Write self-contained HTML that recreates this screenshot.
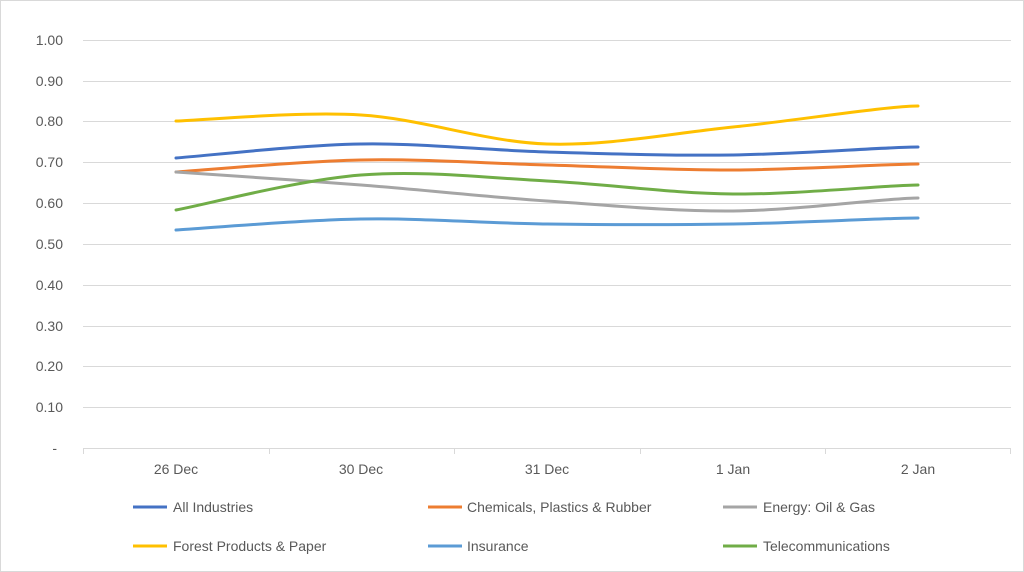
<!DOCTYPE html>
<html><head><meta charset="utf-8"><style>
html,body{margin:0;padding:0;background:#fff;}
svg{display:block;font-family:"Liberation Sans",Arial,sans-serif;}
</style></head><body>
<svg width="1024" height="572" viewBox="0 0 1024 572" xmlns="http://www.w3.org/2000/svg">
<rect x="0.5" y="0.5" width="1023" height="571" fill="#fff" stroke="#d9d9d9"/>
<g stroke="#d9d9d9" stroke-width="1">
<line x1="83" y1="40.5" x2="1011" y2="40.5"/>
<line x1="83" y1="81.5" x2="1011" y2="81.5"/>
<line x1="83" y1="121.5" x2="1011" y2="121.5"/>
<line x1="83" y1="162.5" x2="1011" y2="162.5"/>
<line x1="83" y1="203.5" x2="1011" y2="203.5"/>
<line x1="83" y1="244.5" x2="1011" y2="244.5"/>
<line x1="83" y1="285.5" x2="1011" y2="285.5"/>
<line x1="83" y1="326.5" x2="1011" y2="326.5"/>
<line x1="83" y1="366.5" x2="1011" y2="366.5"/>
<line x1="83" y1="407.5" x2="1011" y2="407.5"/>
<line x1="83" y1="448.5" x2="1011" y2="448.5"/>
<line x1="83.5" y1="448" x2="83.5" y2="454"/>
<line x1="269.5" y1="448" x2="269.5" y2="454"/>
<line x1="454.5" y1="448" x2="454.5" y2="454"/>
<line x1="640.5" y1="448" x2="640.5" y2="454"/>
<line x1="825.5" y1="448" x2="825.5" y2="454"/>
<line x1="1010.5" y1="448" x2="1010.5" y2="454"/>
</g>
<g fill="#595959" font-size="14" text-anchor="end">
<text x="63" y="45">1.00</text><text x="63" y="86">0.90</text><text x="63" y="126">0.80</text>
<text x="63" y="167">0.70</text><text x="63" y="208">0.60</text><text x="63" y="249">0.50</text>
<text x="63" y="290">0.40</text><text x="63" y="331">0.30</text><text x="63" y="371">0.20</text>
<text x="63" y="412">0.10</text><text x="57" y="453">-</text>
</g>
<g fill="#595959" font-size="14" text-anchor="middle">
<text x="176" y="474">26 Dec</text><text x="361" y="474">30 Dec</text><text x="547" y="474">31 Dec</text>
<text x="733" y="474">1 Jan</text><text x="918" y="474">2 Jan</text>
</g>
<g fill="none" stroke-width="3" stroke-linecap="round">
<path stroke="#ffc000" d="M176,121 C206.8,120 299.2,111.2 361,115 C422.8,118.8 485,142 547,144 C609,146 671.2,133.3 733,127 C794.8,120.7 887.2,106 918,106"/>
<path stroke="#4472c4" d="M176,158 C206.8,155.7 299.2,145 361,144 C422.8,143 485,150.2 547,152 C609,153.8 671.2,155.8 733,155 C794.8,154.2 887.2,147 918,147"/>
<path stroke="#ed7d31" d="M176,172 C206.8,170 299.2,161.2 361,160 C422.8,158.8 485,163.3 547,165 C609,166.7 671.2,170.2 733,170 C794.8,169.8 887.2,164 918,164"/>
<path stroke="#a5a5a5" d="M176,172 C206.8,174.2 299.2,180.2 361,185 C422.8,189.8 485,196.7 547,201 C609,205.3 671.2,211.5 733,211 C794.8,210.5 887.2,198 918,198"/>
<path stroke="#70ad47" d="M176,210 C206.8,204.2 299.2,179.8 361,175 C422.8,170.2 485,177.8 547,181 C609,184.2 671.2,193.3 733,194 C794.8,194.7 887.2,185 918,185"/>
<path stroke="#5b9bd5" d="M176,230 C206.8,228.2 299.2,220 361,219 C422.8,218 485,223.2 547,224 C609,224.8 671.2,225 733,224 C794.8,223 887.2,218 918,218"/>
</g>
<g stroke-width="3">
<line x1="133" y1="507" x2="167" y2="507" stroke="#4472c4"/>
<line x1="428" y1="507" x2="462" y2="507" stroke="#ed7d31"/>
<line x1="723" y1="507" x2="757" y2="507" stroke="#a5a5a5"/>
<line x1="133" y1="546" x2="167" y2="546" stroke="#ffc000"/>
<line x1="428" y1="546" x2="462" y2="546" stroke="#5b9bd5"/>
<line x1="723" y1="546" x2="757" y2="546" stroke="#70ad47"/>
</g>
<g fill="#595959" font-size="14">
<text x="173" y="512">All Industries</text>
<text x="467" y="512">Chemicals, Plastics &amp; Rubber</text>
<text x="763" y="512">Energy: Oil &amp; Gas</text>
<text x="173" y="551">Forest Products &amp; Paper</text>
<text x="467" y="551">Insurance</text>
<text x="763" y="551">Telecommunications</text>
</g>
</svg>
</body></html>
